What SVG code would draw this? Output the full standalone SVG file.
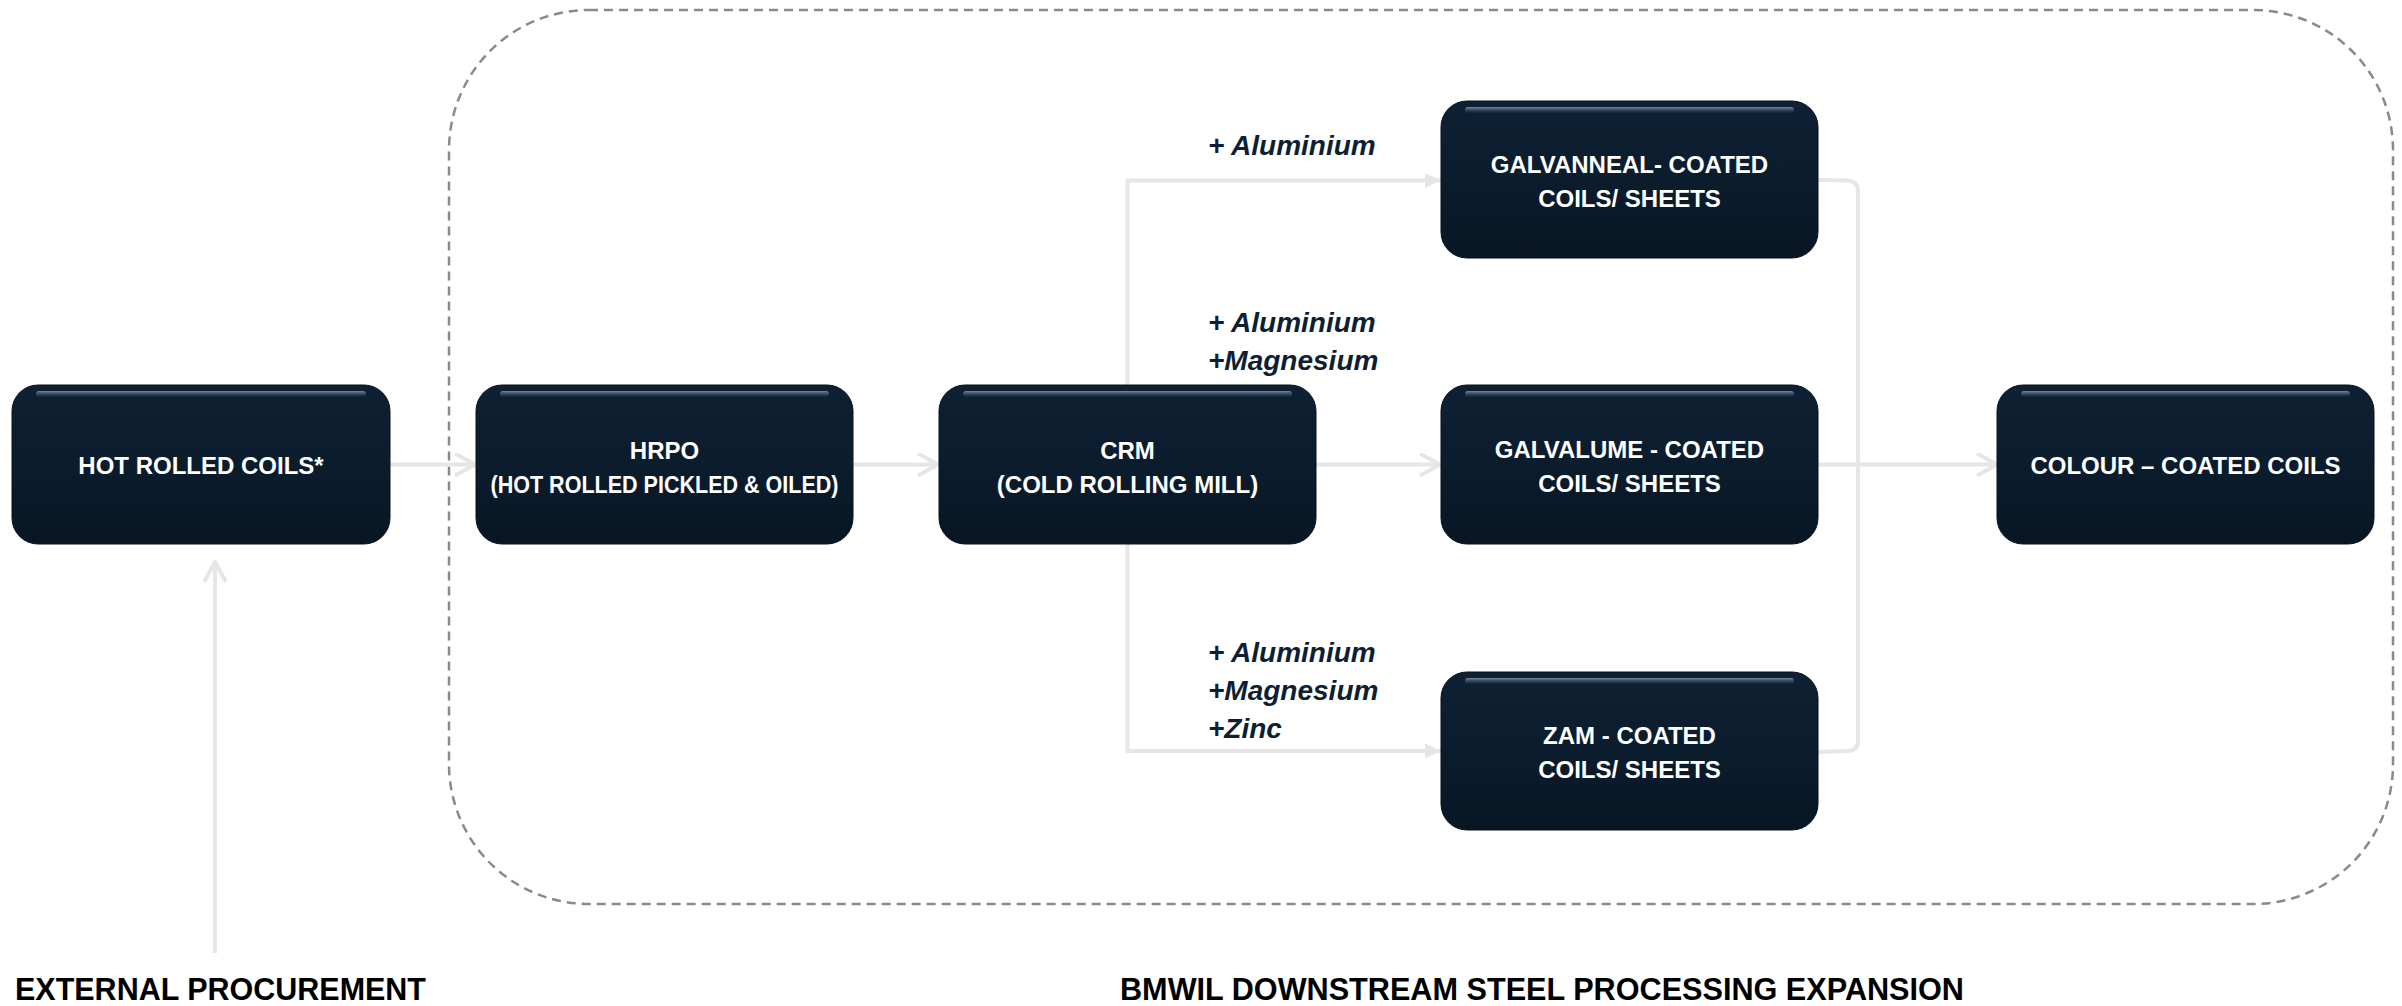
<svg xmlns="http://www.w3.org/2000/svg" width="2402" height="1006" viewBox="0 0 2402 1006">
<style>
.box{fill:url(#nodeFill);stroke:#06121e;stroke-width:1}
.gloss{fill:url(#glossFill)}
.nt{font-family:"Liberation Sans",Arial,sans-serif;font-weight:bold;font-size:24px;fill:#ffffff;text-anchor:middle}
.lbl{font-family:"Liberation Sans",Arial,sans-serif;font-weight:bold;font-style:italic;font-size:28px;fill:#0e1f33}
.title{font-family:"Liberation Sans",Arial,sans-serif;font-weight:bold;font-size:31px;fill:#000000}
.conn{fill:none;stroke:#e6e6e6;stroke-width:4}
.frame{fill:none;stroke:#8a8a8a;stroke-width:2.5;stroke-dasharray:9 6}
</style>
<defs>
<linearGradient id="nodeFill" x1="0" y1="0" x2="0" y2="1">
<stop offset="0" stop-color="#0e2033"/>
<stop offset="0.5" stop-color="#0b1c2d"/>
<stop offset="1" stop-color="#081624"/>
</linearGradient>
<linearGradient id="glossFill" x1="0" y1="0" x2="0" y2="1">
<stop offset="0" stop-color="#8597a8" stop-opacity="0.9"/>
<stop offset="1" stop-color="#2a3d52" stop-opacity="0.2"/>
</linearGradient>
<marker id="chev" viewBox="0 0 24 24" refX="22" refY="12" markerWidth="24" markerHeight="24" markerUnits="userSpaceOnUse" orient="auto">
<path d="M2,1 L22,12 L2,23" fill="none" stroke="#e6e6e6" stroke-width="4"/>
</marker>
<marker id="tri" viewBox="0 0 16 16" refX="16" refY="8" markerWidth="16" markerHeight="16" markerUnits="userSpaceOnUse" orient="auto">
<path d="M0,0.5 L16,8 L0,15.5 Z" fill="#e6e6e6"/>
</marker>
</defs>
<rect fill="#ffffff" x="0" y="0" width="2402" height="1006"/>

<rect class="frame" x="449" y="10" width="1944" height="894" rx="140" ry="140"/>

<g id="connectors">
<path class="conn" d="M390,464.5 L475,464.5" marker-end="url(#chev)"/>
<path class="conn" d="M853,464.5 L938,464.5" marker-end="url(#chev)"/>
<path class="conn" d="M1316,464.5 L1440,464.5" marker-end="url(#chev)"/>
<path class="conn" d="M1818,464.5 L1997,464.5" marker-end="url(#chev)"/>
<path class="conn" d="M215,953 L215,562" marker-end="url(#chev)"/>
<path class="conn" d="M1127.5,385 L1127.5,180.5 L1441,180.5" marker-end="url(#tri)"/>
<path class="conn" d="M1127.5,544 L1127.5,751 L1441,751" marker-end="url(#tri)"/>
<path class="conn" d="M1818,180 L1848,180.5 Q1858,181.5 1858,191 L1858,741 Q1858,750.5 1848,751 L1818,752"/>
</g>

<g id="node-hot-rolled-coils">
<rect class="box" x="12" y="385" width="378" height="159" rx="26"/>
<rect class="gloss" x="36" y="391" width="330" height="6" rx="3"/>
<text class="nt" x="201" y="474">HOT ROLLED COILS*</text>
</g>

<g id="node-hrpo">
<rect class="box" x="476" y="385" width="377" height="159" rx="26"/>
<rect class="gloss" x="500" y="391" width="329" height="6" rx="3"/>
<text class="nt" x="664.5" y="459">HRPO</text>
<text class="nt" x="664.5" y="493" textLength="348" lengthAdjust="spacingAndGlyphs">(HOT ROLLED PICKLED &amp; OILED)</text>
</g>

<g id="node-crm">
<rect class="box" x="939" y="385" width="377" height="159" rx="26"/>
<rect class="gloss" x="963" y="391" width="329" height="6" rx="3"/>
<text class="nt" x="1127.5" y="459">CRM</text>
<text class="nt" x="1127.5" y="493">(COLD ROLLING MILL)</text>
</g>

<g id="node-galvanneal">
<rect class="box" x="1441" y="101" width="377" height="157" rx="26"/>
<rect class="gloss" x="1465" y="107" width="329" height="6" rx="3"/>
<text class="nt" x="1629.5" y="173">GALVANNEAL- COATED</text>
<text class="nt" x="1629.5" y="207">COILS/ SHEETS</text>
</g>

<g id="node-galvalume">
<rect class="box" x="1441" y="385" width="377" height="159" rx="26"/>
<rect class="gloss" x="1465" y="391" width="329" height="6" rx="3"/>
<text class="nt" x="1629.5" y="458">GALVALUME - COATED</text>
<text class="nt" x="1629.5" y="492">COILS/ SHEETS</text>
</g>

<g id="node-zam">
<rect class="box" x="1441" y="672" width="377" height="158" rx="26"/>
<rect class="gloss" x="1465" y="678" width="329" height="6" rx="3"/>
<text class="nt" x="1629.5" y="744">ZAM - COATED</text>
<text class="nt" x="1629.5" y="778">COILS/ SHEETS</text>
</g>

<g id="node-colour">
<rect class="box" x="1997" y="385" width="377" height="159" rx="26"/>
<rect class="gloss" x="2021" y="391" width="329" height="6" rx="3"/>
<text class="nt" x="2185.5" y="474">COLOUR – COATED COILS</text>
</g>

<g id="labels">
<text class="lbl" x="1208" y="155">+ Aluminium</text>
<text class="lbl" x="1208" y="332">+ Aluminium</text>
<text class="lbl" x="1208" y="370">+Magnesium</text>
<text class="lbl" x="1208" y="662">+ Aluminium</text>
<text class="lbl" x="1208" y="700">+Magnesium</text>
<text class="lbl" x="1208" y="738">+Zinc</text>
</g>

<g id="titles">
<text class="title" x="15" y="1000" textLength="411" lengthAdjust="spacingAndGlyphs">EXTERNAL PROCUREMENT</text>
<text class="title" x="1120" y="1000" textLength="844" lengthAdjust="spacingAndGlyphs">BMWIL DOWNSTREAM STEEL PROCESSING EXPANSION</text>
</g>
</svg>
